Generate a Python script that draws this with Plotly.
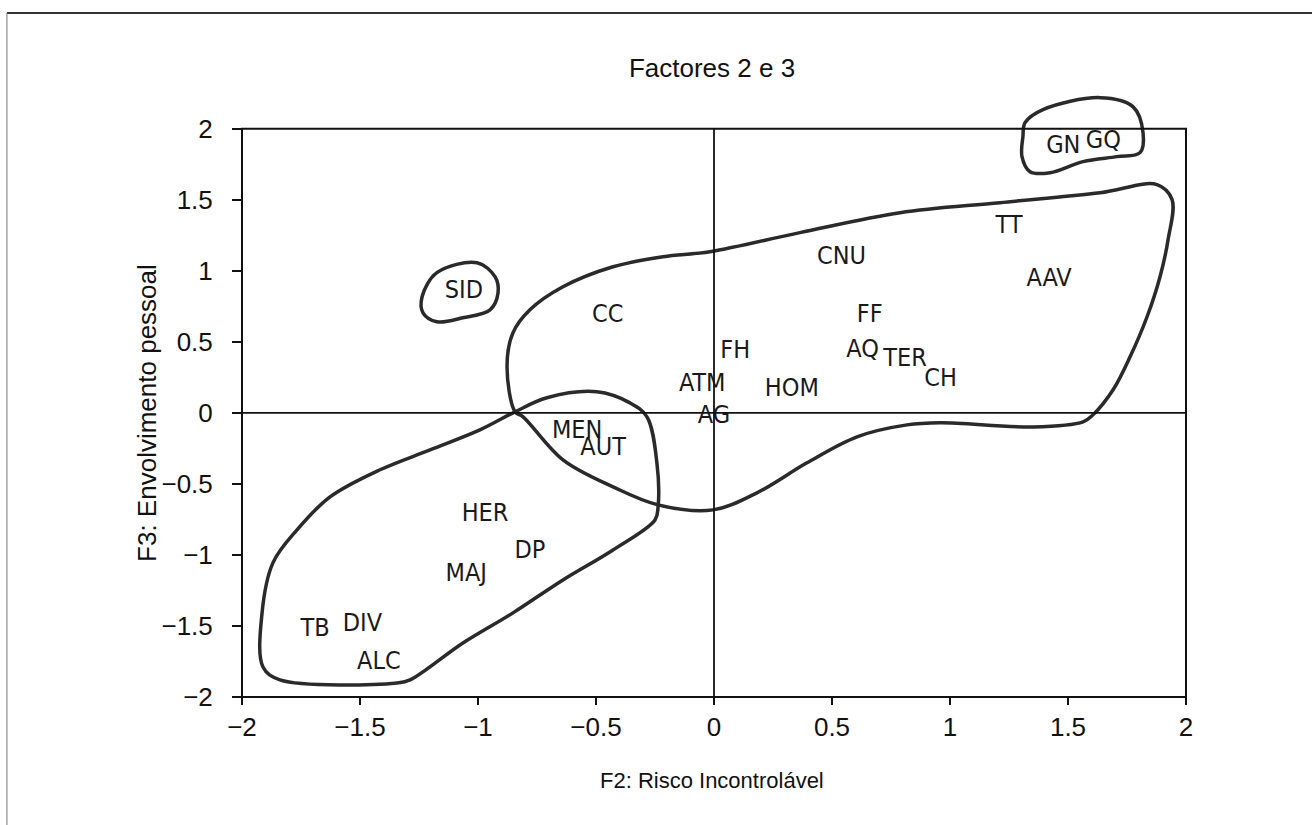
import plotly.graph_objects as go

# ---- data ----
labels = ["GN", "GQ", "TT", "AAV", "CNU", "FF", "AQ", "TER", "CH", "FH", "HOM",
          "ATM", "AG", "CC", "SID", "MEN", "AUT", "HER", "DP", "MAJ", "TB", "DIV", "ALC"]
f2 = [1.48, 1.65, 1.25, 1.42, 0.54, 0.66, 0.63, 0.81, 0.96, 0.09, 0.33,
      -0.05, 0.00, -0.45, -1.06, -0.58, -0.47, -0.97, -0.78, -1.05, -1.69, -1.49, -1.42]
f3 = [1.87, 1.91, 1.31, 0.94, 1.09, 0.68, 0.44, 0.37, 0.23, 0.43, 0.16,
      0.20, -0.03, 0.68, 0.85, -0.13, -0.25, -0.72, -0.98, -1.14, -1.53, -1.49, -1.76]

# hand-drawn group outlines (vertices)
big_x = [-0.843, -0.877, -0.852, -0.780, -0.640, -0.428, -0.216, -0.017, 0.364, 0.788, 1.212,
         1.636, 1.877, 1.941, 1.924, 1.890, 1.835, 1.763, 1.691, 1.606, 1.564, 1.352, 0.958,
         0.818, 0.606, 0.394, 0.182, -0.004, -0.237, -0.428, -0.640, -0.809]
big_y = [0.007, 0.324, 0.563, 0.725, 0.887, 1.028, 1.099, 1.134, 1.268, 1.408, 1.479,
         1.549, 1.606, 1.500, 1.218, 0.958, 0.676, 0.394, 0.162, -0.014, -0.063, -0.099, -0.070,
         -0.085, -0.169, -0.352, -0.563, -0.683, -0.648, -0.521, -0.331, -0.028]

low_x = [-0.843, -0.708, -0.496, -0.356, -0.284, -0.242, -0.237, -0.250, -0.428, -0.640,
         -0.852, -1.064, -1.288, -1.343, -1.839, -1.911, -1.915, -1.869, -1.767, -1.627,
         -1.415, -1.203, -0.992]
low_y = [0.007, 0.106, 0.148, 0.070, -0.028, -0.352, -0.662, -0.754, -0.965, -1.176,
         -1.408, -1.620, -1.880, -1.901, -1.880, -1.789, -1.408, -1.056, -0.824, -0.592,
         -0.401, -0.261, -0.120]

sid_x = [-1.237, -1.174, -1.004, -0.928, -0.915, -0.949, -1.064, -1.174, -1.233]
sid_y = [0.817, 0.986, 1.056, 0.958, 0.845, 0.725, 0.669, 0.641, 0.704]

gq_x = [1.318, 1.394, 1.636, 1.775, 1.818, 1.805, 1.708, 1.564, 1.424, 1.339, 1.305, 1.309]
gq_y = [2.042, 2.134, 2.218, 2.155, 1.972, 1.831, 1.803, 1.768, 1.690, 1.697, 1.803, 1.944]

tick_vals = [-2, -1.5, -1, -0.5, 0, 0.5, 1, 1.5, 2]
tick_text = ["\u22122", "\u22121.5", "\u22121", "\u22120.5", "0", "0.5", "1", "1.5", "2"]

XR = [-2, 2]
YR = [-2, 2.3]

SANS = "Liberation Sans, Arial, Helvetica, sans-serif"
COND = "DejaVu Sans Condensed, Liberation Sans, Arial, sans-serif"

fig = go.Figure()

for xs, ys in [(big_x, big_y), (low_x, low_y), (sid_x, sid_y), (gq_x, gq_y)]:
    fig.add_trace(go.Scatter(
        x=xs + xs[:1], y=ys + ys[:1], mode="lines",
        line=dict(color="#2a2a2a", width=3.5, shape="spline", smoothing=1.0),
        hoverinfo="skip", showlegend=False))

fig.add_trace(go.Scatter(
    x=f2, y=f3, mode="text", text=labels, textposition="middle center",
    textfont=dict(family=COND, size=25, color="#1a1a1a"),
    cliponaxis=False, showlegend=False, hoverinfo="text"))

ytop = (2 - YR[0]) / (YR[1] - YR[0])
shapes = [
    # plot frame
    dict(type="rect", xref="paper", yref="paper", x0=0, x1=1, y0=0, y1=ytop,
         line=dict(color="#111", width=2)),
    # zero lines
    dict(type="line", xref="x", yref="y", x0=0, x1=0, y0=-2, y1=2,
         line=dict(color="#111", width=1.8)),
    dict(type="line", xref="x", yref="y", x0=-2, x1=2, y0=0, y1=0,
         line=dict(color="#111", width=1.8)),
    # page border (top and left)
    dict(type="line", xref="paper", yref="paper", x0=-0.249, x1=1.2, y0=1.1195, y1=1.1195,
         line=dict(color="#333", width=2)),
    dict(type="line", xref="paper", yref="paper", x0=-0.249, x1=-0.249, y0=-0.3, y1=1.1195,
         line=dict(color="#777", width=1)),
]

fig.update_layout(
    width=1312, height=825,
    margin=dict(l=242, r=126, t=86, b=128),
    paper_bgcolor="white", plot_bgcolor="white",
    shapes=shapes,
    title=dict(text="Factores 2 e 3", x=0.5427, xanchor="center", y=0.9176, yanchor="middle",
               yref="container", xref="container",
               font=dict(family=SANS, size=26, color="#111")),
    annotations=[
        dict(text="F2: Risco Incontrolável", xref="paper", yref="paper", x=0.498, y=-0.136,
             showarrow=False, xanchor="center", yanchor="middle",
             font=dict(family=SANS, size=22, color="#111")),
        dict(text="F3: Envolvimento pessoal", xref="paper", yref="paper", x=-0.1006, y=0.465,
             showarrow=False, xanchor="center", yanchor="middle", textangle=-90,
             font=dict(family=SANS, size=26, color="#111")),
    ],
)

fig.update_xaxes(range=XR, showgrid=False, zeroline=False, showline=False,
                 tickmode="array", tickvals=tick_vals, ticktext=tick_text,
                 ticks="outside", ticklen=7, tickwidth=1.5, tickcolor="#111",
                 tickfont=dict(family=SANS, size=26, color="#111"))
fig.update_yaxes(range=YR, showgrid=False, zeroline=False, showline=False,
                 tickmode="array", tickvals=tick_vals, ticktext=tick_text,
                 ticks="outside", ticklen=9, tickwidth=1.5, tickcolor="#111",
                 ticklabelstandoff=14,
                 tickfont=dict(family=SANS, size=26, color="#111"))

fig.write_html("out.html")
